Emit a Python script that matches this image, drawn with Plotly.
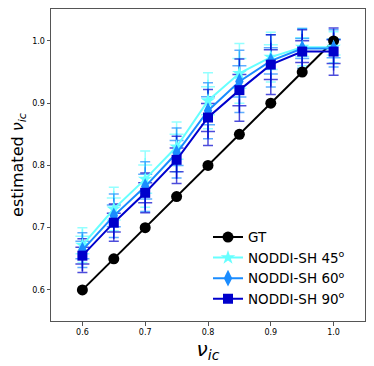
import plotly.graph_objects as go

nu_ic = [0.6, 0.65, 0.7, 0.75, 0.8, 0.85, 0.9, 0.95, 1.0]
gt = [0.6, 0.65, 0.7, 0.75, 0.8, 0.85, 0.9, 0.95, 1.0]

sh45 = [0.672, 0.730, 0.778, 0.830, 0.904, 0.948, 0.974, 0.990, 0.990]
sh60 = [0.664, 0.719, 0.766, 0.820, 0.888, 0.935, 0.968, 0.988, 0.988]
sh90 = [0.655, 0.708, 0.756, 0.809, 0.877, 0.921, 0.962, 0.983, 0.983]

std45 = [0.028, 0.035, 0.045, 0.040, 0.045, 0.048, 0.040, 0.030, 0.025]
std60 = [0.028, 0.035, 0.040, 0.040, 0.045, 0.050, 0.042, 0.032, 0.030]
std90 = [0.027, 0.030, 0.032, 0.038, 0.045, 0.050, 0.048, 0.035, 0.038]

names = ["NODDI-SH 45<sup>o</sup>", "NODDI-SH 60<sup>o</sup>", "NODDI-SH 90<sup>o</sup>"]
colors = ["#66ffff", "#1a8cff", "#0000cc"]
err_colors = ["rgba(102,255,255,0.7)", "rgba(26,140,255,0.7)", "rgba(0,0,204,0.7)"]
symbols = ["star", "diamond-tall", "square"]
sizes = [11, 12, 10]

fig = go.Figure()

series = [sh45, sh60, sh90]
stds = [std45, std60, std90]

# error bars + inner crosses first, so lines sit on top
for vals, sd, ec in zip(series, stds, err_colors):
    fig.add_trace(go.Scatter(
        x=nu_ic, y=vals, mode="markers", showlegend=False,
        marker=dict(size=1, color="rgba(0,0,0,0)"),
        error_y=dict(type="data", array=sd, color=ec, thickness=1.5, width=5),
    ))
    inner = [v + s * 0.5 for v, s in zip(vals, sd)] + [v - s * 0.5 for v, s in zip(vals, sd)]
    fig.add_trace(go.Scatter(
        x=nu_ic + nu_ic, y=inner, mode="markers", showlegend=False,
        marker=dict(symbol="cross-thin", size=10, line=dict(color=ec, width=1.5)),
    ))

fig.add_trace(go.Scatter(
    x=nu_ic, y=gt, mode="lines+markers", name="GT",
    line=dict(color="black", width=2),
    marker=dict(symbol="circle", size=11, color="black"),
))

for vals, name, c, sym, sz in zip(series, names, colors, symbols, sizes):
    fig.add_trace(go.Scatter(
        x=nu_ic, y=vals, mode="lines+markers", name=name,
        line=dict(color=c, width=2),
        marker=dict(symbol=sym, size=sz, color=c),
    ))

axis_common = dict(
    showgrid=False, zeroline=False, showline=True, linecolor="#555555", linewidth=1,
    mirror=True, ticks="outside", ticklen=3.5, tickcolor="#555555", automargin=False,
    tickfont=dict(family="DejaVu Sans", size=8, color="black"),
)

# page body has an 8px margin, so the figure is sized to the window minus that
fig.update_layout(
    width=366, height=358,
    margin=dict(l=43, r=9, t=1, b=45),
    plot_bgcolor="white", paper_bgcolor="white",
    font=dict(family="DejaVu Sans", color="black"),
    xaxis=dict(range=[0.55, 1.05], tickvals=[0.6, 0.7, 0.8, 0.9, 1.0],
               ticktext=["0.6", "0.7", "0.8", "0.9", "1.0"],
               title=dict(text="<i>ν<sub>ic</sub></i>", font=dict(size=20), standoff=4),
               **axis_common),
    yaxis=dict(range=[0.55, 1.0514], tickvals=[0.6, 0.7, 0.8, 0.9, 1.0],
               ticktext=["0.6", "0.7", "0.8", "0.9", "1.0"],
               title=dict(text="estimated <i>ν<sub>ic</sub></i>", font=dict(size=16), standoff=6),
               **axis_common),
    legend=dict(x=0.5, y=0.02, xanchor="left", yanchor="bottom",
                bgcolor="rgba(255,255,255,0)", font=dict(size=13.5),
                tracegroupgap=0),
)

fig.write_html("out.html")
